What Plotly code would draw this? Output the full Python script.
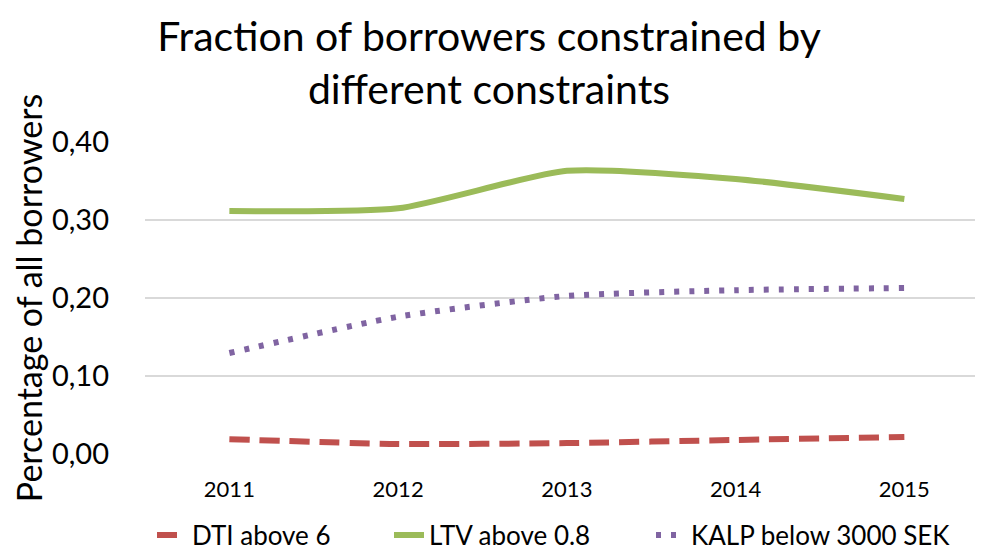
import plotly.graph_objects as go

years = [2011, 2012, 2013, 2014, 2015]
year_labels = ["2011", "2012", "2013", "2014", "2015"]
dti = [0.019, 0.0128, 0.014, 0.018, 0.0218]
ltv = [0.3115, 0.315, 0.363, 0.3526, 0.327]
kalp = [0.1295, 0.176, 0.2026, 0.210, 0.2128]
y_ticks = [0.0, 0.1, 0.2, 0.3, 0.4]
y_tick_labels = ["0,00", "0,10", "0,20", "0,30", "0,40"]

FONT = "Lato"
# page body has an 8px margin, so the figure is sized to the visible area
W, H = 975, 545

fig = go.Figure()
fig.add_trace(go.Scatter(x=years, y=dti, name="DTI above 6", mode="lines", legend="legend",
                         line=dict(color="#C0504D", width=6, dash="20px,10px", shape="spline", smoothing=0.6)))
fig.add_trace(go.Scatter(x=years, y=ltv, name="LTV above 0.8", mode="lines", legend="legend2",
                         line=dict(color="#9BBB59", width=6, shape="spline", smoothing=0.6)))
fig.add_trace(go.Scatter(x=years, y=kalp, name="KALP below 3000 SEK", mode="lines", legend="legend3",
                         line=dict(color="#8064A2", width=6, dash="5px,10px", shape="spline", smoothing=0.6)))

def leg(xpx):
    return dict(orientation="h", xref="container", yref="container",
                x=xpx / W, xanchor="left", y=1 - 527 / H, yanchor="middle",
                font=dict(size=26, family=FONT, color="black"),
                bgcolor="rgba(0,0,0,0)", borderwidth=0, tracegroupgap=0)

fig.update_layout(
    width=W, height=H,
    margin=dict(l=137, r=0, t=134, b=99, autoexpand=False),
    paper_bgcolor="white", plot_bgcolor="white",
    font=dict(family=FONT, color="black"),
    title=dict(text="Fraction of borrowers constrained by<br>different constraints",
               x=481 / W, xanchor="center", y=1 - 43 / H, yanchor="middle",
               font=dict(size=41, family=FONT, color="black")),
    xaxis=dict(range=[2010.5, 2015.466], tickvals=years, ticktext=year_labels,
               showgrid=False, zeroline=False, showline=False, ticks="",
               ticklabelstandoff=20,
               tickfont=dict(size=22, family=FONT), automargin=False),
    yaxis=dict(range=[0, 0.4], tickvals=y_ticks, ticktext=y_tick_labels,
               showgrid=True, gridcolor="#D9D9D9", gridwidth=1.5, zeroline=False,
               showline=False, ticks="", ticklabelstandoff=35, automargin=False,
               tickfont=dict(size=29, family=FONT),
               title=dict(text="Percentage of all borrowers", font=dict(size=34, family=FONT), standoff=2)),
    legend=leg(144),
    legend2=leg(381),
    legend3=leg(643),
    showlegend=True,
)

fig.write_html("out.html")
